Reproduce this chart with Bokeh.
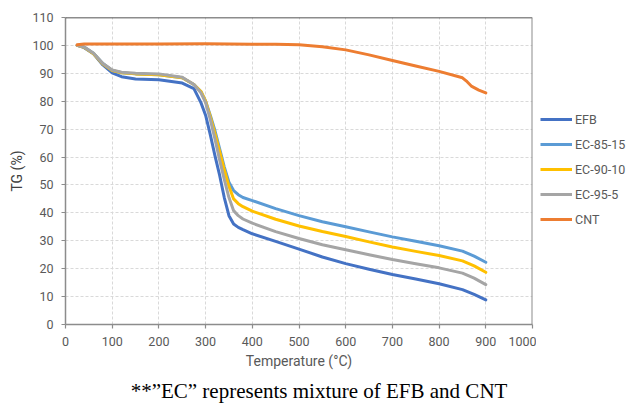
from bokeh.plotting import figure
from bokeh.models import Range1d, FixedTicker, Span, Legend, LegendItem, Label
from bokeh.layouts import column, row
from bokeh.embed import file_html
from bokeh.resources import INLINE

# ---------------- data ----------------
temp = [25, 40, 60, 80, 100, 120, 150, 200, 250, 275, 290, 300, 310, 320, 330,
        340, 350, 360, 370, 380, 400, 450, 500, 550, 600, 650, 700, 750, 800,
        850, 875, 900]
efb = [100, 99.2, 97.0, 93.0, 90.2, 88.8, 88.0, 87.7, 86.5, 84.5, 79.5, 75.0,
       68.0, 60.5, 53.5, 45.5, 39.0, 36.0, 34.8, 34.0, 32.5, 29.8, 27.0, 24.2,
       21.8, 19.8, 17.9, 16.3, 14.6, 12.5, 10.8, 8.8]
ec_85_15 = [100, 99.4, 97.2, 93.5, 91.0, 90.2, 89.8, 89.5, 88.4, 86.0, 83.5,
            80.0, 75.0, 69.5, 63.0, 56.5, 51.0, 48.0, 46.5, 45.5, 44.4, 41.5,
            39.0, 36.8, 35.0, 33.2, 31.4, 29.8, 28.2, 26.3, 24.5, 22.3]
ec_90_10 = [100, 99.3, 97.0, 93.3, 91.0, 90.2, 89.8, 89.5, 88.4, 86.0, 83.5,
            80.0, 74.5, 68.5, 62.0, 55.5, 49.5, 45.0, 43.3, 42.2, 40.6, 37.7,
            35.3, 33.3, 31.5, 29.6, 27.8, 26.2, 24.7, 22.8, 21.0, 18.7]
ec_95_5 = [100, 99.4, 97.2, 93.5, 91.2, 90.4, 90.0, 89.8, 88.6, 86.0, 83.0,
           79.5, 73.5, 66.5, 59.0, 52.0, 45.5, 40.8, 39.0, 37.8, 36.3, 33.3,
           30.8, 28.6, 26.8, 25.0, 23.3, 21.8, 20.3, 18.4, 16.6, 14.3]
cnt_temp = [25, 40, 100, 200, 300, 400, 450, 500, 550, 600, 650, 700, 750, 800,
            850, 860, 870, 885, 900]
cnt = [100.2, 100.5, 100.5, 100.5, 100.6, 100.4, 100.4, 100.2, 99.5, 98.4,
       96.6, 94.6, 92.6, 90.7, 88.4, 87.0, 85.3, 84.0, 83.0]

series_names = ["EFB", "EC-85-15", "EC-90-10", "EC-95-5", "CNT"]
series_colors = ["#4472C4", "#5B9BD5", "#FFC000", "#A5A5A5", "#ED7D31"]

x_ticks = [0, 100, 200, 300, 400, 500, 600, 700, 800, 900, 1000]
y_ticks = [0, 10, 20, 30, 40, 50, 60, 70, 80, 90, 100, 110]

caption = "**\u201dEC\u201d represents mixture of EFB and CNT"
x_title = "Temperature (\u00b0C)"
y_title = "TG (%)"

FONT = "Roboto"
GREY_TXT = "#595959"

MAIN_W, MAIN_H = 536, 374
LEG_W = 634 - MAIN_W
CAP_H = 403 - MAIN_H

# ---------------- main chart ----------------
p = figure(width=MAIN_W, height=MAIN_H, output_backend="svg", toolbar_location=None,
           x_range=Range1d(0, 1000), y_range=Range1d(0, 110),
           min_border_left=65, min_border_right=4, min_border_top=17,
           min_border_bottom=50)
p.outline_line_color = None
p.background_fill_color = "white"
p.border_fill_color = "white"

for ax, ticks in ((p.xaxis[0], x_ticks), (p.yaxis[0], y_ticks)):
    ax.ticker = FixedTicker(ticks=ticks)
    ax.major_tick_in = 0
    ax.major_tick_out = 4
    ax.minor_tick_line_color = None
    ax.axis_line_color = "#8c8c8c"
    ax.axis_line_width = 1.5
    ax.major_tick_line_color = "#8c8c8c"
    ax.major_tick_line_width = 1.2
    ax.major_label_text_font = FONT
    ax.major_label_text_font_size = "12.5px"
    ax.major_label_text_color = GREY_TXT
    ax.major_label_standoff = 8
    ax.axis_label_text_font = FONT
    ax.axis_label_text_font_size = "14px"
    ax.axis_label_text_font_style = "normal"
    ax.axis_label_text_color = GREY_TXT

p.xaxis.axis_label = x_title
p.xaxis.axis_label_standoff = 4
p.yaxis.axis_label = y_title
p.yaxis.axis_label_standoff = 4
p.yaxis.axis_label_text_color = "#404040"

for g, ticks in ((p.xgrid[0], x_ticks), (p.ygrid[0], y_ticks)):
    g.ticker = FixedTicker(ticks=ticks)
    g.grid_line_color = "#D9D9D9"
    g.grid_line_dash = "3 2"
    g.grid_line_width = 1

p.add_layout(Span(location=110, dimension="width", line_color="#1a1a1a", line_width=1.5))
p.add_layout(Span(location=1000, dimension="height", line_color="#8c8c8c", line_width=2))

data = [(temp, efb), (temp, ec_85_15), (temp, ec_90_10), (temp, ec_95_5), (cnt_temp, cnt)]
for (xs, ys), col in zip(data, series_colors):
    p.line(xs, ys, line_color=col, line_width=3, line_join="round", line_cap="round")

# ---------------- legend panel ----------------
# the same series are drawn here far outside this panel's (empty) view, only so the
# legend has renderers to take its line styles from
lg = figure(width=LEG_W, height=MAIN_H, output_backend="svg", toolbar_location=None,
            x_axis_type=None, y_axis_type=None, min_border=0,
            x_range=Range1d(-2, -1), y_range=Range1d(-2, -1))
lg.outline_line_color = None
lg.xgrid.visible = False
lg.ygrid.visible = False
lg.border_fill_color = "white"
items = []
for (xs, ys), name, col in zip(data, series_names, series_colors):
    r = lg.line(xs, ys, line_color=col, line_width=3)
    items.append(LegendItem(label=name, renderers=[r]))
legend = Legend(items=items, location=(4, 95), padding=0, margin=0, spacing=5,
                glyph_width=32, glyph_height=20, label_height=20, label_standoff=3,
                border_line_color=None, background_fill_alpha=0,
                label_text_font=FONT, label_text_font_size="12.5px",
                label_text_color=GREY_TXT)
lg.add_layout(legend)

# ---------------- caption ----------------
cp = figure(width=634, height=CAP_H, output_backend="svg", toolbar_location=None,
            x_axis_type=None, y_axis_type=None, min_border=0,
            x_range=Range1d(0, 634), y_range=Range1d(0, CAP_H))
cp.outline_line_color = None
cp.xgrid.visible = False
cp.ygrid.visible = False
cp.border_fill_color = "white"
cp.add_layout(Label(x=318.5, y=CAP_H - 16, text=caption,
                    text_font="Liberation Serif", text_font_size="21px",
                    text_align="center", text_baseline="middle", text_color="black"))

open("out.html", "w").write(file_html(column(row(p, lg), cp), INLINE))
